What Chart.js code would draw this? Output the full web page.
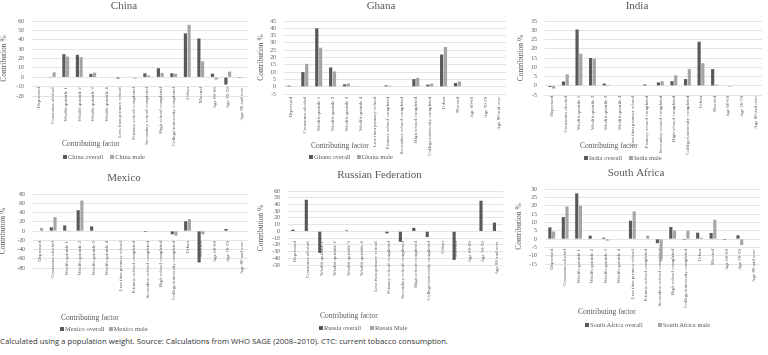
<html>
<head>
<script src="https://cdn.jsdelivr.net/npm/chart.js@4.4.0/dist/chart.umd.min.js"></script>
<title>Contribution by factor</title>
<style>
  body { margin: 0; background: #fff; width: 768px; height: 355px; position: relative; overflow: hidden; }
  canvas { position: absolute; }
  .xt { position: absolute; font-family: "Liberation Serif"; font-size: 7.5px; color: #595959; white-space: nowrap; line-height: 10px; margin-top: -5px; }
  .lg { position: absolute; font-family: "Liberation Serif"; font-size: 6.5px; color: #595959; white-space: nowrap; line-height: 8px; margin-top: -4px; }
  .lg i { display: inline-block; width: 4px; height: 4px; margin-right: 1px; vertical-align: 0px; }
  .cap { position: absolute; left: 0; top: 336px; font-family: "Open Sans"; font-size: 7.75px; color: #333; white-space: nowrap; line-height: 10px; }
</style>
</head>
<body>
<div class="cap">Calculated using a population weight. Source: Calculations from WHO SAGE (2008–2010). CTC: current tobacco consumption.</div>
<script>
// categories
const factors = ['Depressed', 'Consumes alcohol', 'Wealth quintile 1', 'Wealth quintile 2', 'Wealth quintile 3',
  'Wealth quintile 4', 'Less than primary school', 'Primary school completed', 'Secondary school completed',
  'High school completed', 'College/university completed', 'Urban', 'Married', 'Age 60-69', 'Age 70-79', 'Age 80 and over'];

// values (contribution %)
const chinaOverall  = [0, -0.6, 24.6, 24, 3.6, 0, -1.4, 0.3, 4.2, 9.6, 4.2, 46.8, 41.4, 3.8, -7.8, -0.8];
const chinaMale     = [0, 5.2, 22, 21.4, 5, 0, -0.5, -1.5, 2, 4.6, 3.8, 56, 17, -2.5, 6, -0.3];
const ghanaOverall  = [0.7, 10, 40, 13.2, 1.6, 0.3, 0, 0.9, 0.2, 5.2, 1.4, 22, 2.5, 0, 0, 0];
const ghanaMale     = [0, 15.7, 26.7, 10.5, 2.2, 0, 0, 0.6, 0, 6, 2.1, 27.2, 3.6, 0, 0, 0];
const indiaOverall  = [-0.7, 2.3, 30.4, 15, 1.2, 0.2, 0, 0.7, 1.8, 2.5, 3.6, 23.8, 9, 0.2, 0, 0];
const indiaMale     = [-1.5, 6.2, 17.3, 14.6, 0.5, 0, 0, 0, 2.5, 5.7, 9, 12.2, 0.6, -0.5, 0, 0];
const mexicoOverall = [0, 8, 12, 45, 10, 0, 0, 0, -2, 0, -7, 21, -68, 0, 4.5, 0];
const mexicoMale    = [6.5, 30, 1.2, 66, 0, 0, 0, 0, 0, 0, -10, 25.5, -7, 0, 0, 0];
const russiaOverall = [2.5, 47, -32, 0, 1.5, 0, 0, -3, -15.5, 5.2, -8.5, 0, -42.5, 0, 45.5, 13];
const russiaMale    = [0, 0, 0, 0, 0, 0, 0, 0, 0, 0, 0, 0, 0, 0, 0, 0];
const saOverall     = [7, 13.2, 27.4, 2, 0.8, 0.2, 11, 0, -2.5, 7.2, -0.5, 3.8, 3.6, -0.5, 2.2, 0];
const saMale        = [4.5, 19.5, 20, 0, -1, 0.1, 16.5, 2, -12.3, 5, 5, 0.8, 11.6, 0, -3.6, 0];

// axis ranges: min, max, step
const chinaTicks  = [-20, 60, 10];
const ghanaTicks  = [-5, 45, 5];
const indiaTicks  = [-5, 35, 5];
const mexicoTicks = [-80, 80, 20];
const russiaTicks = [-50, 60, 10];
const saTicks     = [-15, 30, 5];

const panels = [
  { title: 'China', names: ['China overall', 'China male'], overall: chinaOverall, male: chinaMale, ticks: chinaTicks,
    x: 0, y: 0, h: 165, plotL: 32, plotR: 248, plotT: 21, plotB: 96, titleY: 6.5, yTitleX: 4.5,
    cf: [62, 144], lg: [63, 157], gap: 7 },
  { title: 'Ghana', names: ['Ghana overall', 'Ghana male'], overall: ghanaOverall, male: ghanaMale, ticks: ghanaTicks,
    x: 256, y: 0, h: 165, plotL: 28, plotR: 250, plotT: 21, plotB: 94, titleY: 6.5, yTitleX: 5,
    cf: [311, 146], lg: [309, 157], gap: 6 },
  { title: 'India', names: ['India overall', 'India male'], overall: indiaOverall, male: indiaMale, ticks: indiaTicks,
    x: 512, y: 0, h: 165, plotL: 33, plotR: 250, plotT: 21, plotB: 95, titleY: 6.5, yTitleX: 9,
    cf: [580, 146], lg: [584, 158], gap: 7 },
  { title: 'Mexico', names: ['Mexico overall', 'Mexico male'], overall: mexicoOverall, male: mexicoMale, ticks: mexicoTicks,
    x: 0, y: 165, h: 170, plotL: 33, plotR: 248, plotT: 29, plotB: 103, titleY: 13.5, yTitleX: 3.5,
    cf: [61, 318], lg: [60, 329], gap: 4 },
  { title: 'Russian Federation', names: ['Russia overall', 'Russia Male'], overall: russiaOverall, male: russiaMale, ticks: russiaTicks,
    x: 256, y: 165, h: 170, plotL: 32, plotR: 247, plotT: 26, plotB: 100, titleY: 10.5, yTitleX: 5.5,
    cf: [320, 316], lg: [319, 328], gap: 9 },
  { title: 'South Africa', names: ['South Africa overall', 'South Africa male'], overall: saOverall, male: saMale, ticks: saTicks,
    x: 512, y: 165, h: 170, plotL: 33, plotR: 248, plotT: 24, plotB: 99, titleY: 8.5, yTitleX: 7.5,
    cf: [578, 312], lg: [585, 325], gap: 15 }
];

const DARK = '#595959', LIGHT = '#a5a5a5', GRID = '#d9d9d9', TXT = '#595959';
const SERIF = 'Liberation Serif';

panels.forEach(p => {
  const cv = document.createElement('canvas');
  cv.width = 256; cv.height = p.h;
  cv.style.left = p.x + 'px'; cv.style.top = p.y + 'px';
  document.body.appendChild(cv);

  const tTop = p.titleY - 6.6;
  const tBot = p.plotT - tTop - 13.2;

  new Chart(cv, {
    type: 'bar',
    data: {
      labels: factors,
      datasets: [
        { label: p.names[0], data: p.overall, backgroundColor: DARK },
        { label: p.names[1], data: p.male, backgroundColor: LIGHT }
      ]
    },
    options: {
      responsive: false,
      animation: false,
      events: [],
      barPercentage: 0.85,
      categoryPercentage: 0.55,
      layout: { padding: { left: 0, right: 256 - p.plotR, top: 0, bottom: p.h - p.plotB } },
      plugins: {
        legend: { display: false },
        tooltip: { enabled: false },
        title: {
          display: true, text: p.title, color: TXT,
          font: { family: SERIF, size: 11, weight: 'normal' },
          padding: { top: tTop, bottom: tBot }
        }
      },
      scales: {
        x: {
          position: { y: 0 },
          grid: { display: false },
          border: { display: false },
          ticks: {
            autoSkip: false, minRotation: 90, maxRotation: 90, padding: 2,
            color: TXT, font: { family: SERIF, size: 5 }
          }
        },
        y: {
          min: p.ticks[0], max: p.ticks[1],
          grid: { color: GRID, lineWidth: 0.7, drawTicks: false },
          border: { display: false },
          ticks: { autoSkip: false, stepSize: p.ticks[2], padding: 8, color: TXT, font: { family: SERIF, size: 5.8 } },
          title: {
            display: true, text: 'Contribution %', color: TXT,
            font: { family: SERIF, size: 7.5 },
            padding: { top: p.yTitleX - 4.5, bottom: 0 }
          },
          afterFit: s => { s.width = p.plotL; }
        }
      }
    }
  });

  const cf = document.createElement('div');
  cf.className = 'xt';
  cf.style.left = p.cf[0] + 'px'; cf.style.top = p.cf[1] + 'px';
  cf.textContent = 'Contributing factor';
  document.body.appendChild(cf);

  const lg = document.createElement('div');
  lg.className = 'lg';
  lg.style.left = p.lg[0] + 'px'; lg.style.top = p.lg[1] + 'px';
  [DARK, LIGHT].forEach((c, i) => {
    const sw = document.createElement('i');
    sw.style.background = c;
    if (i) sw.style.marginLeft = p.gap + 'px';
    lg.appendChild(sw);
    lg.appendChild(document.createTextNode(p.names[i]));
  });
  document.body.appendChild(lg);
});
</script>
</body>
</html>
